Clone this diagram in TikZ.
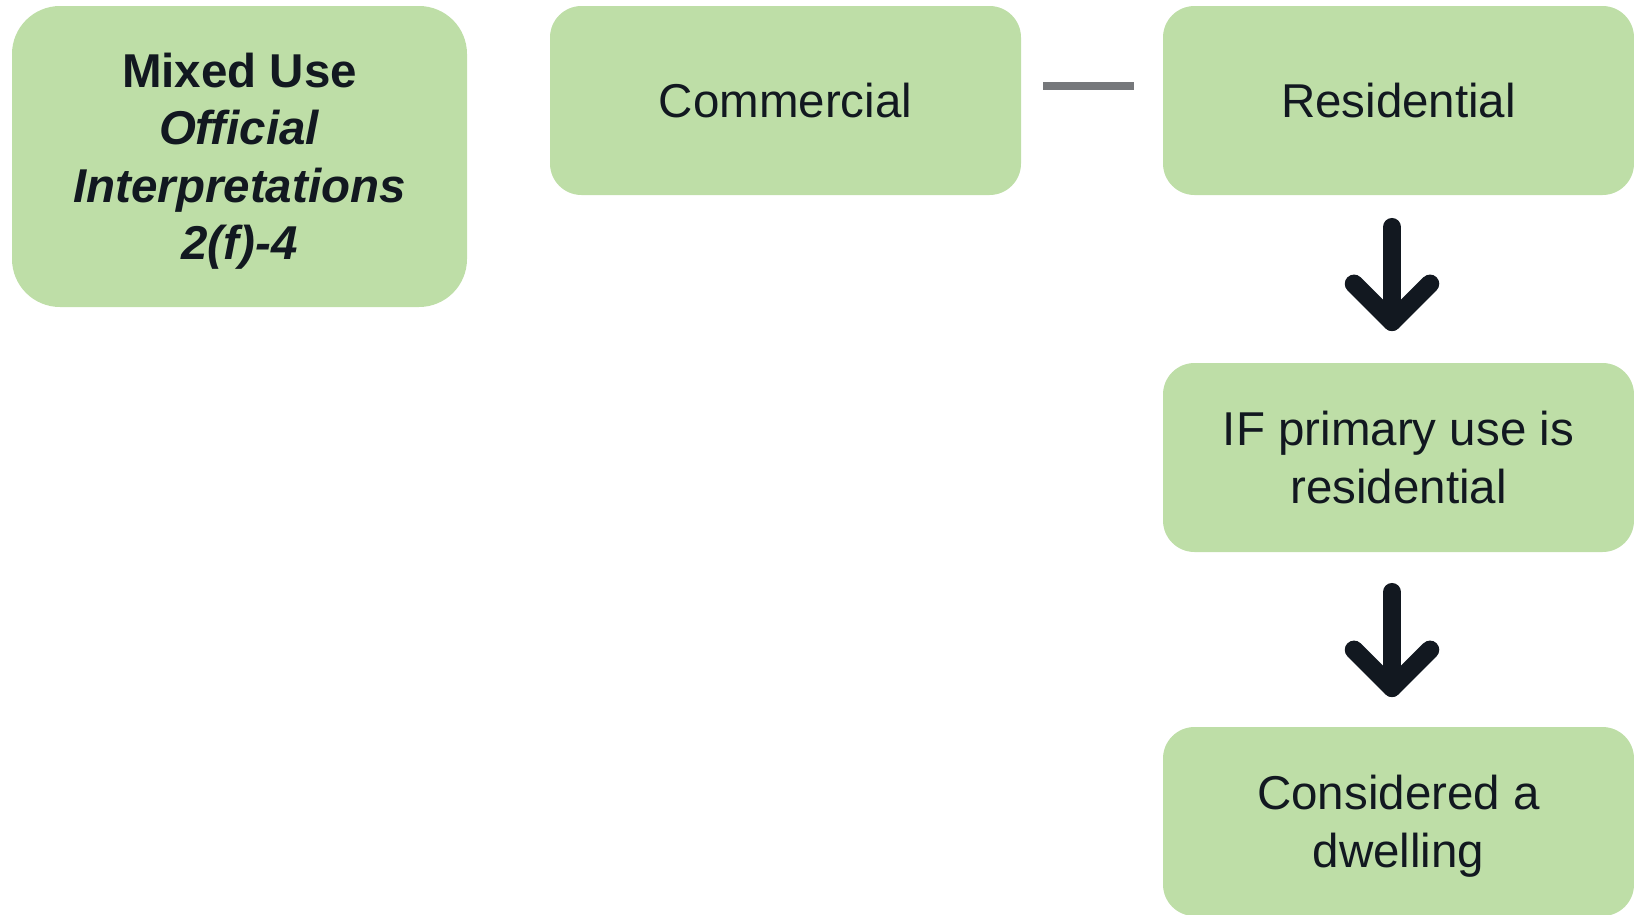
\documentclass[tikz,border=0pt]{standalone}
\usepackage{fontspec}
\setmainfont{Liberation Sans}
\usetikzlibrary{calc}
\definecolor{boxgreen}{HTML}{BEDEA7}
\definecolor{ink}{HTML}{121820}
\definecolor{linkgray}{HTML}{76787B}
\tikzset{
  card/.style={fill=boxgreen, draw=none, rounded corners=31.5pt,
    minimum width=471pt, minimum height=189pt, inner sep=0pt,
    text=ink, align=center, text depth=0pt,
    font=\fontsize{47.5}{57.5}\selectfont},
  fat/.style={draw=ink, line width=18.5pt, line cap=round, line join=round},
  link/.style={draw=linkgray, line width=8pt},
}
\begin{document}
\begin{tikzpicture}[x=1pt,y=-1pt]
\useasboundingbox (0,0) rectangle (1634,914);

% boxes
\node[card, minimum width=455pt, minimum height=301pt, rounded corners=48pt]
  (mix) at (239.5,156.5)
  {\textbf{Mixed Use}\\\textbf{\textit{Official}}\\\textbf{\textit{Interpretations}}\\\textbf{\textit{2(f)-4}}};
\node[card] (com) at (785.5,100.5) {Commercial};
\node[card] (res) at (1398.5,100.5) {Residential};
\node[card] (ifres) at (1398.5,457.5) {IF primary use is\\residential};
\node[card] (dwell) at (1398.5,821.5) {Considered a\\dwelling};

% horizontal link
\draw[link] ([xshift=22pt,yshift=14.5pt]com.east) -- ([xshift=-29pt,yshift=14.5pt]res.west);

% downward arrows
\draw[fat, shorten <=32pt, shorten >=41pt]
  ([xshift=-6.5pt]res.south) -- ([xshift=-6.5pt]ifres.north);
\draw[fat] ([xshift=-6.5pt,yshift=41pt]ifres.north) ++(-38,-38)
  -- ++(38,38) -- ++(38,-38);

\draw[fat, shorten <=40pt, shorten >=39pt]
  ([xshift=-6.5pt]ifres.south) -- ([xshift=-6.5pt]dwell.north);
\draw[fat] ([xshift=-6.5pt,yshift=39pt]dwell.north) ++(-38,-38)
  -- ++(38,38) -- ++(38,-38);
\end{tikzpicture}
\end{document}
